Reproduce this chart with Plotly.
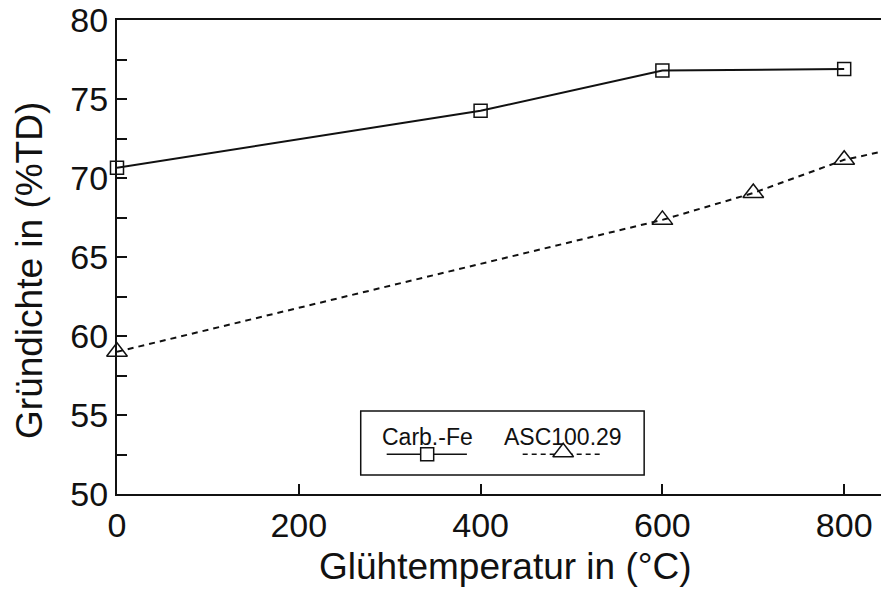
import plotly.graph_objects as go

# Annealing temperature (°C) and green density (%TD)
carb_temp = [0, 400, 600, 800]
carb_density = [70.65, 74.25, 76.8, 76.9]

asc_temp = [0, 600, 700, 800, 900]
asc_density = [59.0, 67.35, 69.05, 71.15, 72.4]

carb_name = "Carb.-Fe"
asc_name = "ASC100.29"

x_title = "Glühtemperatur in (°C)"
y_title = "Gründichte in (%TD)"

x_ticks = [0, 200, 400, 600, 800]
y_ticks = [50 + 2.5 * i for i in range(13)]
y_labels = [str(int(v)) if v % 5 == 0 else "" for v in y_ticks]

FONT = "Liberation Sans, Arial, Helvetica, sans-serif"
BLACK = "#111111"

fig = go.Figure()

fig.add_trace(go.Scatter(
    x=carb_temp, y=carb_density, mode="lines+markers", name=carb_name,
    line=dict(color=BLACK, width=2),
    marker=dict(symbol="square-open", size=13, color=BLACK, line=dict(width=1.5, color=BLACK)),
    cliponaxis=False, showlegend=False,
))
fig.add_trace(go.Scatter(
    x=asc_temp, y=asc_density, mode="lines+markers", name=asc_name,
    line=dict(color=BLACK, width=2, dash="6px,5px"),
    marker=dict(symbol="triangle-up-open", size=18, color=BLACK, line=dict(width=1.5, color=BLACK)),
    cliponaxis=False, showlegend=False,
))

# Hand-drawn legend: labels above short line samples inside a framed box
fig.add_shape(type="rect", xref="paper", yref="paper", x0=0.319, x1=0.690, y0=0.040, y1=0.175,
              line=dict(color=BLACK, width=1.5), fillcolor="white", layer="below")
fig.add_trace(go.Scatter(
    x=[0.353, 0.458], y=[0.084, 0.084], xaxis="x2", yaxis="y2", mode="lines",
    showlegend=False, hoverinfo="skip", line=dict(color=BLACK, width=1.5),
))
fig.add_trace(go.Scatter(
    x=[0.531, 0.632], y=[0.084, 0.084], xaxis="x2", yaxis="y2", mode="lines",
    showlegend=False, hoverinfo="skip", line=dict(color=BLACK, width=1.5, dash="5px,4px"),
))
fig.add_trace(go.Scatter(
    x=[0.406], y=[0.084], xaxis="x2", yaxis="y2", mode="markers", showlegend=False, hoverinfo="skip",
    marker=dict(symbol="square", size=13, color="white", line=dict(width=1.5, color=BLACK)),
))
fig.add_trace(go.Scatter(
    x=[0.584], y=[0.088], xaxis="x2", yaxis="y2", mode="markers", showlegend=False, hoverinfo="skip",
    marker=dict(symbol="triangle-up", size=18, color="white", line=dict(width=1.5, color=BLACK)),
))
fig.add_annotation(x=0.406, y=0.121, xref="paper", yref="paper", text=carb_name, showarrow=False,
                   font=dict(family=FONT, size=23, color=BLACK), xanchor="center", yanchor="middle")
fig.add_annotation(x=0.584, y=0.121, xref="paper", yref="paper", text=asc_name, showarrow=False,
                   font=dict(family=FONT, size=23, color=BLACK), xanchor="center", yanchor="middle")

# Axis titles
fig.add_annotation(x=0.509, y=-0.154, xref="paper", yref="paper", text=x_title, showarrow=False,
                   font=dict(family=FONT, size=37, color=BLACK), xanchor="center", yanchor="middle")
fig.add_annotation(x=-0.1139, y=0.4726, xref="paper", yref="paper", text=y_title, showarrow=False,
                   textangle=-90, font=dict(family=FONT, size=37, color=BLACK),
                   xanchor="center", yanchor="middle")

fig.update_layout(
    width=881, height=590,
    margin=dict(l=117, r=0, t=20, b=96),
    paper_bgcolor="white", plot_bgcolor="white",
    font=dict(family=FONT, color=BLACK),
    xaxis=dict(
        range=[0, 840.5], tickmode="array", tickvals=x_ticks, ticktext=[str(v) for v in x_ticks],
        ticks="inside", ticklen=10, tickwidth=1.5, tickcolor=BLACK,
        showline=True, linecolor=BLACK, linewidth=2, mirror=True,
        showgrid=False, zeroline=False,
        tickfont=dict(size=34, family=FONT, color=BLACK),
    ),
    yaxis=dict(
        range=[50, 80], tickmode="array", tickvals=y_ticks, ticktext=y_labels,
        ticks="inside", ticklen=10, tickwidth=1.5, tickcolor=BLACK,
        showline=True, linecolor=BLACK, linewidth=2,
        showgrid=False, zeroline=False,
        tickfont=dict(size=34, family=FONT, color=BLACK),
    ),
    xaxis2=dict(range=[0, 1], domain=[0, 1], overlaying="x", visible=False, fixedrange=True),
    yaxis2=dict(range=[0, 1], domain=[0, 1], overlaying="y", visible=False, fixedrange=True),
)

fig.write_html("out.html")
